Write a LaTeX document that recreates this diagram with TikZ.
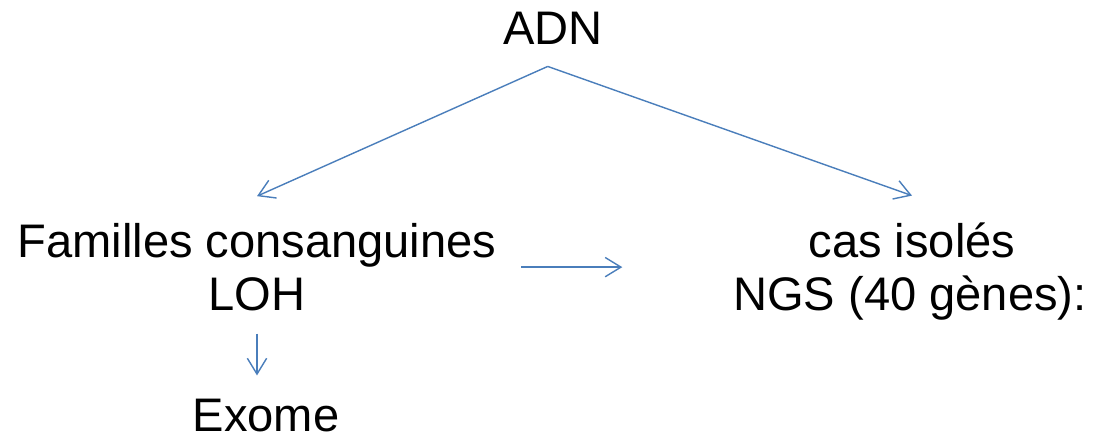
\documentclass[tikz,border=0pt]{standalone}
\usepackage{fontspec}
\setmainfont{Liberation Sans}
\usetikzlibrary{arrows.meta,positioning,calc}

\definecolor{flowblue}{HTML}{4A7EBB}

\begin{document}
\begin{tikzpicture}[
  x=0.02cm,y=-0.02cm,
  >={Straight Barb[length=9pt,width=11pt]},
  txtnode/.style={inner sep=0pt,anchor=base,font=\fontsize{26.8}{30}\selectfont},
  flow/.style={->,draw=flowblue,line width=0.8pt}
]
\useasboundingbox (0,0) rectangle (1095,439);

% ---- top ----
\node[txtnode] (adn) at (553,45) {ADN};

% ---- left branch ----
\node[txtnode] (fam) at (257,257) {Familles consanguines};
\node[txtnode] (loh) at (257,310) {LOH};
\node[txtnode] (exome) at (266,431) {Exome};

% ---- right branch ----
\node[txtnode] (cas) at (912,257) {cas isolés};
\node[txtnode] (ngs) at (910,310) {NGS (40 gènes):};

\coordinate (fork) at ([xshift=-3pt,yshift=-12pt]adn.south);
\draw[flow] (fork) -- ([yshift=15pt]fam.north);
\draw[flow] (fork) -- ([yshift=15pt]cas.north);

\draw[flow,shorten <=14pt,shorten >=63pt] (fam.south east) -- (fam.south east -| ngs.west);
\draw[flow,shorten <=13pt,shorten >=13pt] (loh.south) -- (loh.south |- exome.north);

\end{tikzpicture}
\end{document}
